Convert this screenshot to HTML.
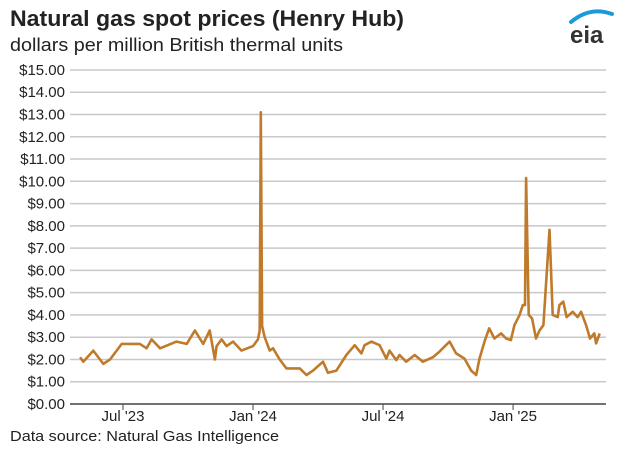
<!DOCTYPE html>
<html><head><meta charset="utf-8"><style>
body{margin:0;background:#fff;font-family:"Liberation Sans",Arial,sans-serif;}
#wrap{position:relative;width:626px;height:473px;overflow:hidden;}
</style></head><body>
<div id="wrap">
<svg id="svg" width="626" height="473" xmlns="http://www.w3.org/2000/svg">
<text x="10" y="26" font-size="22" font-weight="bold" fill="#222" textLength="394" lengthAdjust="spacingAndGlyphs">Natural gas spot prices (Henry Hub)</text>
<text x="10" y="51" font-size="18" fill="#222" textLength="333" lengthAdjust="spacingAndGlyphs">dollars per million British thermal units</text>
<g>
<path d="M571 22 Q590 6 612 14" stroke="#1a9bd7" stroke-width="4" fill="none" stroke-linecap="round"/>
<text x="570" y="43" font-size="24" font-weight="bold" fill="#333">eia</text>
</g>
<g id="grid"></g>
<g id="ylabels"></g>
<g id="xaxis"></g>
<path id="line" fill="none" stroke="#c07a2c" stroke-width="2.6" stroke-linejoin="round"/>
<text x="10" y="441" font-size="15" fill="#222" textLength="269" lengthAdjust="spacingAndGlyphs">Data source: Natural Gas Intelligence</text>
</svg>
</div>
<script>
const yTicks=[0,1,2,3,4,5,6,7,8,9,10,11,12,13,14,15];
const xTickMonths=[6,12,18,24];
const xTickLabels=["Jul '23","Jan '24","Jul '24","Jan '25"];
// months since Jan 1 2023
const months=[4.02,4.17,4.63,5.09,5.40,5.94,6.78,7.09,7.32,7.71,8.47,8.94,9.32,9.70,10.0,10.24,10.32,10.55,10.78,11.08,11.47,12.0,12.23,12.31,12.36,12.42,12.54,12.77,12.92,13.23,13.54,14.16,14.47,14.77,15.23,15.46,15.85,16.31,16.69,17.0,17.15,17.46,17.84,18.15,18.3,18.61,18.76,19.07,19.46,19.84,20.3,20.6,21.07,21.37,21.76,22.07,22.3,22.45,22.68,22.9,23.14,23.45,23.68,23.9,24.06,24.3,24.45,24.55,24.6,24.72,24.88,25.06,25.22,25.4,25.68,25.83,26.06,26.14,26.32,26.47,26.75,26.98,27.14,27.37,27.55,27.75,27.83,28.0];
const prices=[2.1,1.9,2.4,1.8,2.0,2.7,2.7,2.5,2.9,2.5,2.8,2.7,3.3,2.7,3.3,2.0,2.6,2.9,2.6,2.8,2.4,2.6,2.9,3.3,13.1,3.5,3.0,2.4,2.5,2.0,1.6,1.6,1.3,1.5,1.9,1.4,1.5,2.2,2.64,2.27,2.64,2.8,2.64,2.04,2.4,1.97,2.2,1.9,2.2,1.9,2.1,2.35,2.8,2.27,2.04,1.5,1.3,2.04,2.8,3.4,2.94,3.17,2.94,2.87,3.54,4.0,4.44,4.44,10.15,4.0,3.84,2.94,3.3,3.54,7.82,4.0,3.9,4.44,4.6,3.9,4.14,3.9,4.14,3.54,2.94,3.17,2.72,3.17];
const NS="http://www.w3.org/2000/svg";
const X0=70,X1=606,Y0=404,PPD=22.27;
const xs=m=>123+(m-6)*21.67;
const ys=v=>Y0-v*PPD;
const grid=document.getElementById('grid'),yl=document.getElementById('ylabels'),xa=document.getElementById('xaxis');
yTicks.forEach(v=>{
 if(v>0){const l=document.createElementNS(NS,'line');
 
 
 l.setAttribute('x1',X0);l.setAttribute('x2',X1);l.setAttribute('y1',ys(v));l.setAttribute('y2',ys(v));
 l.setAttribute('stroke','#c8c8c8');l.setAttribute('stroke-width','1.5');grid.appendChild(l);}
 const t=document.createElementNS(NS,'text');
 
 
 t.setAttribute('x',65);t.setAttribute('y',ys(v)+5);t.setAttribute('text-anchor','end');
 t.setAttribute('font-size','15');t.setAttribute('fill','#222');t.textContent='$'+v.toFixed(2);yl.appendChild(t);
});
const ax=document.createElementNS(NS,'line');


ax.setAttribute('x1',X0);ax.setAttribute('x2',X1);ax.setAttribute('y1',Y0);ax.setAttribute('y2',Y0);
ax.setAttribute('stroke','#444');ax.setAttribute('stroke-width','1.5');xa.appendChild(ax);
xTickMonths.forEach((m,i)=>{
 const tk=document.createElementNS(NS,'line');
 
 
 tk.setAttribute('x1',xs(m));tk.setAttribute('x2',xs(m));tk.setAttribute('y1',Y0);tk.setAttribute('y2',Y0+6);
 tk.setAttribute('stroke','#444');xa.appendChild(tk);
 const t=document.createElementNS(NS,'text');
 
 
 t.setAttribute('x',xs(m));t.setAttribute('y',421);t.setAttribute('text-anchor','middle');
 t.setAttribute('font-size','15');t.setAttribute('fill','#222');t.textContent=xTickLabels[i];xa.appendChild(t);
});
document.getElementById('line').setAttribute('d',months.map((m,i)=>(i?'L':'M')+xs(m).toFixed(1)+' '+ys(prices[i]).toFixed(1)).join(' '));
</script>
</body></html>
